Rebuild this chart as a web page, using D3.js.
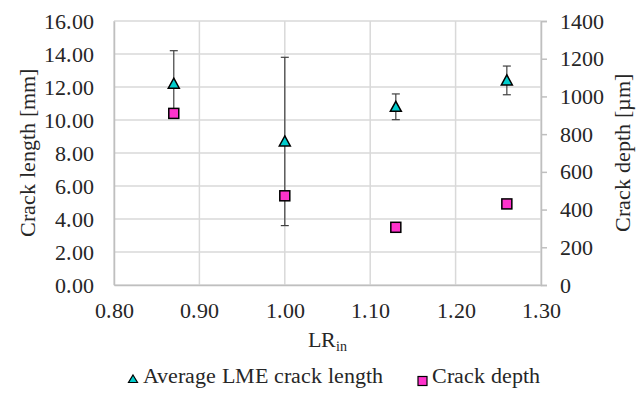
<!DOCTYPE html>
<html>
<head>
<meta charset="utf-8">
<script src="https://cdn.jsdelivr.net/npm/d3@7"></script>
<style>
  @font-face {
    font-family: 'ChartSerif';
    src: local('Liberation Serif'), local('LiberationSerif'), local('Liberation Serif Regular'), local('Tinos'), local('FreeSerif');
  }
  svg text { font-family: 'ChartSerif', 'Liberation Serif', 'Tinos', 'FreeSerif', 'Times New Roman' !important; }
</style>
</head>
<body style="margin:0">
<script>
  // values
  const lrIn = [0.87, 1.00, 1.13, 1.26]
  const crackLength = [12.2, 8.7, 10.8, 12.4]     // mm, left axis
  const lengthError = [2.0, 5.1, 0.78, 0.87]      // mm, symmetric
  const crackDepth = [910, 473, 306, 430]         // µm, right axis

  const xTicks = [0.80, 0.90, 1.00, 1.10, 1.20, 1.30]
  const leftTicks = [0, 2, 4, 6, 8, 10, 12, 14, 16]
  const rightTicks = [0, 200, 400, 600, 800, 1000, 1200, 1400]

  const w = 643, h = 396
  const padL = 114, padR = 541, padT = 21, padB = 285

  const svg = d3.select('body').append('svg')
      .attr('width', w)
      .attr('height', h)

  const scaleX = d3.scaleLinear().domain([0.8, 1.3]).range([padL, padR])
  const scaleY = d3.scaleLinear().domain([0, 16]).range([padB, padT])
  const scaleY2 = d3.scaleLinear().domain([0, 1400]).range([padB, padT])

  // grid
  svg.append('g').selectAll('line')
      .data(leftTicks)
      .enter().append('line')
      .attr('x1', padL).attr('x2', padR)
      .attr('y1', d => scaleY(d)).attr('y2', d => scaleY(d))
      .attr('stroke', '#d9d9d9').attr('stroke-width', 1.5)

  svg.append('g').selectAll('line')
      .data(xTicks)
      .enter().append('line')
      .attr('x1', d => scaleX(d)).attr('x2', d => scaleX(d))
      .attr('y1', padT).attr('y2', padB)
      .attr('stroke', '#d9d9d9').attr('stroke-width', 1.5)

  // axes
  const xAxis = d3.axisBottom(scaleX).tickValues(xTicks).tickSize(0).tickPadding(17)
      .tickFormat(d3.format('.2f'))
  const yAxis = d3.axisLeft(scaleY).tickValues(leftTicks).tickSize(0).tickPadding(20)
      .tickFormat(d3.format('.2f'))
  const yAxis2 = d3.axisRight(scaleY2).tickValues(rightTicks).tickSize(6).tickPadding(13)
      .tickFormat(d3.format('d'))

  const gx = svg.append('g').attr('transform', 'translate(0,' + padB + ')').call(xAxis)
  const gy = svg.append('g').attr('transform', 'translate(' + padL + ',0)').call(yAxis)
  const gy2 = svg.append('g').attr('transform', 'translate(' + padR + ',0)').call(yAxis2)

  ;[gx, gy, gy2].forEach(g => {
    g.attr('font-family', null).attr('font-size', null)
    g.select('.domain').attr('stroke', '#bfbfbf').attr('stroke-width', 1.5)
    g.selectAll('.tick line').attr('stroke', '#bfbfbf').attr('stroke-width', 1.5)
  })

  // error bars
  const err = svg.append('g').selectAll('g')
      .data(lrIn)
      .enter().append('g')
  err.append('line')
      .attr('x1', d => scaleX(d)).attr('x2', d => scaleX(d))
      .attr('y1', (d, i) => scaleY(crackLength[i] + lengthError[i]))
      .attr('y2', (d, i) => scaleY(crackLength[i] - lengthError[i]))
      .attr('stroke', '#404040').attr('stroke-width', 1.2)
  err.append('line')
      .attr('x1', d => scaleX(d) - 4).attr('x2', d => scaleX(d) + 4)
      .attr('y1', (d, i) => scaleY(crackLength[i] + lengthError[i]))
      .attr('y2', (d, i) => scaleY(crackLength[i] + lengthError[i]))
      .attr('stroke', '#404040').attr('stroke-width', 1.2)
  err.append('line')
      .attr('x1', d => scaleX(d) - 4).attr('x2', d => scaleX(d) + 4)
      .attr('y1', (d, i) => scaleY(crackLength[i] - lengthError[i]))
      .attr('y2', (d, i) => scaleY(crackLength[i] - lengthError[i]))
      .attr('stroke', '#404040').attr('stroke-width', 1.2)

  const triangle = 'M0,-5.5L5.5,4.5L-5.5,4.5Z'

  // crack depth squares
  svg.append('g').selectAll('rect')
      .data(lrIn)
      .enter().append('rect')
      .attr('x', d => scaleX(d) - 5)
      .attr('y', (d, i) => scaleY2(crackDepth[i]) - 5)
      .attr('width', 10).attr('height', 10)
      .attr('fill', '#ff33cc').attr('stroke', '#000').attr('stroke-width', 1.5)

  // crack length triangles
  svg.append('g').selectAll('path')
      .data(lrIn)
      .enter().append('path')
      .attr('d', triangle)
      .attr('transform', (d, i) => 'translate(' + scaleX(d) + ',' + scaleY(crackLength[i]) + ')')
      .attr('fill', '#00cccc').attr('stroke', '#000').attr('stroke-width', 1.5)

  // axis titles
  svg.append('text')
      .attr('transform', 'translate(35,' + ((padT + padB) / 2) + ') rotate(-90)')
      .attr('text-anchor', 'middle')
      .text('Crack length [mm]')

  svg.append('text')
      .attr('transform', 'translate(630,' + ((padT + padB) / 2) + ') rotate(-90)')
      .attr('text-anchor', 'middle')
      .text('Crack depth [µm]')

  const xt = svg.append('text')
      .attr('x', (padL + padR) / 2).attr('y', 347)
      .attr('text-anchor', 'middle')
  xt.append('tspan').text('LR')
  xt.append('tspan').attr('class', 'sub').attr('dy', 4).text('in')

  // legend
  const legend = svg.append('g').attr('transform', 'translate(0,381)')
  legend.append('path')
      .attr('d', 'M0,-4L4.5,3.5L-4.5,3.5Z')
      .attr('transform', 'translate(133,-2)')
      .attr('fill', '#00cccc').attr('stroke', '#000').attr('stroke-width', 1.2)
  legend.append('text')
      .attr('x', 143).attr('y', 2)
      .text('Average LME crack length')
  legend.append('rect')
      .attr('x', 418).attr('y', -4.5).attr('width', 9).attr('height', 9)
      .attr('fill', '#ff33cc').attr('stroke', '#000').attr('stroke-width', 1.2)
  legend.append('text')
      .attr('x', 432).attr('y', 2)
      .text('Crack depth')

  // one font for every label
  svg.selectAll('text')
      .attr('font-size', 22)
      .attr('fill', '#262626')
  xt.select('tspan.sub').attr('font-size', 14)
</script>
</body>
</html>
